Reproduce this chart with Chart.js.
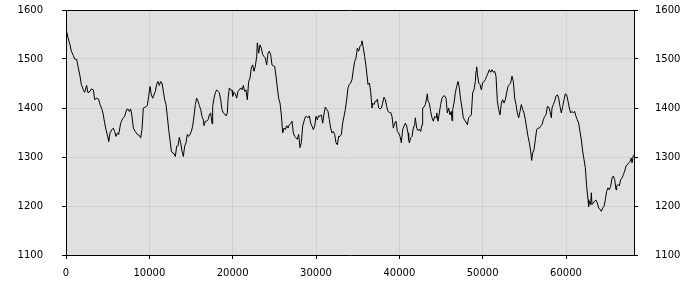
<!DOCTYPE html>
<html>
<head>
<meta charset="utf-8">
<script src="https://cdn.jsdelivr.net/npm/chart.js@4.4.1/dist/chart.umd.min.js"></script>
<style>
  html, body { margin: 0; padding: 0; background: #fff; }
  #wrap { width: 700px; height: 300px; }
</style>
</head>
<body>
<div id="wrap"><canvas id="chart" width="700" height="300"></canvas></div>
<script>
// positions along the x axis
var sampleX = [
    0, 240, 480, 640, 880, 1040, 1280, 1440, 1680, 1840,
    2080, 2240, 2480, 2640, 2880, 3040, 3280, 3440, 3680, 3920,
    4080, 4320, 4480, 4640, 4800, 5040, 5120, 5280, 5520, 5680,
    5840, 6000, 6160, 6320, 6560, 6800, 7040, 7280, 7440, 7600,
    7760, 7920, 8080, 8320, 8560, 8800, 8960, 9120, 9280, 9520,
    9760, 9920, 10080, 10240, 10400, 10560, 10720, 10880, 11040, 11200,
    11360, 11520, 11680, 11840, 12000, 12160, 12320, 12480, 12640, 12800,
    12960, 13120, 13280, 13440, 13600, 13760, 13920, 14080, 14240, 14400,
    14560, 14720, 14880, 15040, 15200, 15360, 15520, 15680, 15840, 16000,
    16160, 16320, 16480, 16560, 16720, 16880, 17040, 17200, 17360, 17440,
    17520, 17600, 17760, 17920, 18080, 18240, 18400, 18560, 18720, 18880,
    19040, 19200, 19360, 19440, 19600, 19760, 19920, 20000, 20160, 20320,
    20480, 20640, 20800, 20960, 21120, 21280, 21440, 21600, 21760, 21920,
    22080, 22240, 22400, 22560, 22720, 22880, 22960, 23120, 23280, 23440,
    23600, 23760, 23920, 24080, 24240, 24400, 24560, 24720, 24880, 25040,
    25200, 25360, 25520, 25680, 25840, 26000, 26160, 26320, 26480, 26640,
    26800, 26960, 27120, 27280, 27440, 27600, 27760, 27920, 28080, 28240,
    28400, 28560, 28720, 28880, 29040, 29200, 29360, 29520, 29680, 29840,
    30000, 30160, 30320, 30480, 30640, 30800, 30960, 31120, 31280, 31440,
    31600, 31760, 31920, 32080, 32240, 32400, 32560, 32720, 32880, 33040,
    33200, 33360, 33520, 33680, 33840, 34000, 34160, 34320, 34480, 34640,
    34800, 34960, 35120, 35280, 35440, 35520, 35680, 35840, 36000, 36160,
    36240, 36400, 36560, 36720, 36800, 36960, 37120, 37280, 37360, 37520,
    37680, 37840, 38000, 38160, 38320, 38480, 38640, 38800, 38960, 39120,
    39280, 39440, 39600, 39760, 39920, 40080, 40240, 40400, 40560, 40720,
    40880, 41040, 41120, 41200, 41360, 41520, 41680, 41840, 41920, 42080,
    42240, 42400, 42560, 42720, 42800, 42960, 43120, 43280, 43360, 43440,
    43600, 43760, 43920, 44080, 44240, 44400, 44480, 44640, 44800, 44960,
    45120, 45280, 45440, 45600, 45760, 45920, 46080, 46240, 46320, 46400,
    46560, 46720, 46880, 47040, 47200, 47360, 47520, 47680, 47840, 48000,
    48160, 48320, 48480, 48640, 48800, 48960, 49120, 49200, 49280, 49360,
    49520, 49680, 49840, 50000, 50160, 50320, 50480, 50640, 50800, 50960,
    51120, 51280, 51440, 51600, 51760, 51920, 52080, 52240, 52400, 52560,
    52720, 52880, 53040, 53200, 53360, 53520, 53680, 53840, 54000, 54160,
    54320, 54480, 54640, 54800, 54960, 55120, 55280, 55440, 55600, 55760,
    55880, 56000, 56160, 56320, 56480, 56640, 56800, 56960, 57120, 57280,
    57440, 57600, 57760, 57920, 58080, 58240, 58320, 58480, 58640, 58800,
    58960, 59120, 59280, 59440, 59600, 59760, 59920, 60080, 60240, 60400,
    60560, 60720, 60880, 61040, 61200, 61360, 61520, 61680, 61840, 62000,
    62160, 62320, 62480, 62640, 62720, 62800, 62960, 63040, 63120, 63280,
    63440, 63600, 63760, 63920, 64080, 64240, 64400, 64560, 64720, 64880,
    65040, 65200, 65360, 65520, 65680, 65840, 66000, 66080, 66240, 66400,
    66560, 66720, 66880, 67040, 67200, 67360, 67520, 67680, 67840, 67920,
    68080, 68160
];

// values
var sampleY = [
    1562, 1543, 1529, 1516, 1507, 1500, 1499, 1485, 1465, 1448,
    1437, 1432, 1446, 1431, 1434, 1439, 1437, 1417, 1420, 1418,
    1407, 1397, 1386, 1369, 1356, 1339, 1332, 1349, 1356, 1359,
    1352, 1342, 1349, 1346, 1369, 1378, 1383, 1397, 1398, 1393,
    1398, 1383, 1359, 1352, 1346, 1344, 1339, 1356, 1400, 1402,
    1405, 1424, 1444, 1427, 1420, 1427, 1434, 1448, 1454, 1446,
    1454, 1451, 1434, 1417, 1407, 1383, 1356, 1335, 1312, 1308,
    1307, 1301, 1322, 1323, 1340, 1329, 1312, 1301, 1322, 1329,
    1346, 1342, 1346, 1352, 1363, 1383, 1407, 1420, 1414, 1405,
    1397, 1383, 1376, 1364, 1373, 1373, 1376, 1386, 1390, 1380,
    1368, 1403, 1420, 1431, 1437, 1434, 1431, 1417, 1397, 1390,
    1388, 1384, 1390, 1417, 1441, 1437, 1436, 1424, 1432, 1429,
    1420, 1434, 1437, 1441, 1437, 1446, 1434, 1437, 1417, 1454,
    1461, 1482, 1488, 1475, 1485, 1505, 1533, 1512, 1529, 1522,
    1509, 1505, 1502, 1488, 1512, 1516, 1509, 1488, 1486, 1485,
    1465, 1441, 1420, 1410, 1386, 1349, 1359, 1356, 1364, 1359,
    1366, 1368, 1373, 1349, 1342, 1339, 1336, 1346, 1319, 1329,
    1363, 1373, 1382, 1383, 1380, 1384, 1369, 1363, 1356, 1363,
    1383, 1376, 1384, 1383, 1386, 1369, 1388, 1402, 1397, 1393,
    1376, 1359, 1349, 1352, 1346, 1329, 1325, 1342, 1342, 1346,
    1369, 1383, 1397, 1417, 1441, 1448, 1451, 1458, 1478, 1495,
    1502, 1522, 1516, 1526, 1529, 1537, 1522, 1505, 1485, 1461,
    1448, 1451, 1434, 1400, 1410, 1407, 1414, 1414, 1418, 1400,
    1398, 1400, 1410, 1422, 1417, 1403, 1393, 1391, 1391, 1383,
    1359, 1369, 1373, 1352, 1349, 1342, 1329, 1356, 1363, 1369,
    1363, 1349, 1335, 1329, 1339, 1342, 1359, 1366, 1380, 1359,
    1354, 1357, 1352, 1366, 1400, 1402, 1407, 1420, 1429, 1414,
    1410, 1393, 1380, 1373, 1383, 1380, 1390, 1373, 1390, 1407,
    1420, 1424, 1425, 1420, 1390, 1400, 1386, 1393, 1374, 1397,
    1410, 1431, 1444, 1454, 1441, 1417, 1400, 1380, 1375, 1371,
    1366, 1380, 1383, 1386, 1431, 1437, 1454, 1475, 1484, 1471,
    1451, 1448, 1437, 1451, 1454, 1458, 1465, 1471, 1478, 1473,
    1478, 1473, 1475, 1465, 1414, 1397, 1386, 1410, 1417, 1410,
    1417, 1431, 1444, 1448, 1451, 1465, 1454, 1420, 1407, 1390,
    1380, 1393, 1407, 1397, 1390, 1376, 1359, 1342, 1329, 1312,
    1293, 1308, 1315, 1335, 1356, 1359, 1359, 1363, 1366, 1376,
    1383, 1386, 1403, 1402, 1393, 1380, 1400, 1407, 1414, 1424,
    1427, 1420, 1403, 1390, 1403, 1417, 1429, 1427, 1414, 1400,
    1390, 1393, 1390, 1393, 1383, 1376, 1369, 1352, 1335, 1312,
    1295, 1278, 1240, 1213, 1199, 1210, 1203, 1227, 1203, 1206,
    1210, 1212, 1206, 1196, 1193, 1189, 1196, 1199, 1213, 1230,
    1237, 1233, 1240, 1257, 1261, 1254, 1233, 1241, 1244, 1241,
    1254, 1257, 1264, 1271, 1282, 1284, 1288, 1291, 1298, 1288,
    1303, 1305
];

// tick labels
var xTickValues = [0, 10000, 20000, 30000, 40000, 50000, 60000];
var yTickValues = [1100, 1200, 1300, 1400, 1500, 1600];
var xLimits = [0, 68160];

var points = sampleX.map(function (x, i) { return { x: x, y: sampleY[i] }; });

Chart.defaults.font.family = 'DejaVu Sans';
Chart.defaults.font.size = 10;
Chart.defaults.color = '#000';

// fundo cinza e linha de cima do quadro
var plotFrame = {
    id: 'plotFrame',
    beforeDraw: function (chart) {
        var a = chart.chartArea, ctx = chart.ctx;
        ctx.save();
        ctx.fillStyle = '#e0e0e0';
        ctx.fillRect(a.left, a.top, a.right - a.left, a.bottom - a.top);
        ctx.restore();
    },
    afterDraw: function (chart) {
        var a = chart.chartArea, ctx = chart.ctx;
        ctx.save();
        ctx.strokeStyle = '#000';
        ctx.lineWidth = 1;
        ctx.beginPath();
        ctx.moveTo(a.left, Math.round(a.top) + 0.5);
        ctx.lineTo(a.right + 1, Math.round(a.top) + 0.5);
        ctx.stroke();
        ctx.restore();
    }
};

function yTicksFrom(scale) {
    scale.ticks = yTickValues.map(function (v) { return { value: v }; });
}

new Chart(document.getElementById('chart').getContext('2d'), {
    type: 'line',
    data: {
        datasets: [{
            data: points,
            borderColor: '#000',
            borderWidth: 1,
            pointRadius: 0,
            tension: 0,
            fill: false
        }]
    },
    options: {
        responsive: false,
        animation: false,
        parsing: false,
        layout: { padding: { top: 10, left: 0, right: 0, bottom: 0 } },
        plugins: { legend: { display: false }, tooltip: { enabled: false } },
        scales: {
            x: {
                type: 'linear',
                min: xLimits[0],
                max: xLimits[1],
                afterBuildTicks: function (scale) {
                    scale.ticks = xTickValues.map(function (v) { return { value: v }; });
                },
                afterFit: function (scale) { scale.height = 45; },
                ticks: { padding: 8, maxRotation: 0, autoSkip: false, includeBounds: false,
                         callback: function (v) { return String(v); } },
                grid: { color: '#d0d0d0', tickColor: '#000', tickLength: 4 },
                border: { color: '#000', width: 1 }
            },
            y: {
                position: 'left',
                min: 1100,
                max: 1600,
                afterBuildTicks: yTicksFrom,
                afterFit: function (scale) { scale.width = 66; scale.paddingTop = 0; },
                ticks: { padding: 19, callback: function (v) { return String(v); } },
                grid: { color: '#d0d0d0', tickColor: '#000', tickLength: 4 },
                border: { color: '#000', width: 1 }
            },
            y2: {
                position: 'right',
                min: 1100,
                max: 1600,
                afterBuildTicks: yTicksFrom,
                afterFit: function (scale) { scale.width = 66; scale.paddingTop = 0; },
                ticks: { padding: 17, callback: function (v) { return String(v); } },
                grid: { drawOnChartArea: false, tickColor: '#000', tickLength: 4 },
                border: { color: '#000', width: 1 }
            }
        }
    },
    plugins: [plotFrame]
});
</script>
</body>
</html>
